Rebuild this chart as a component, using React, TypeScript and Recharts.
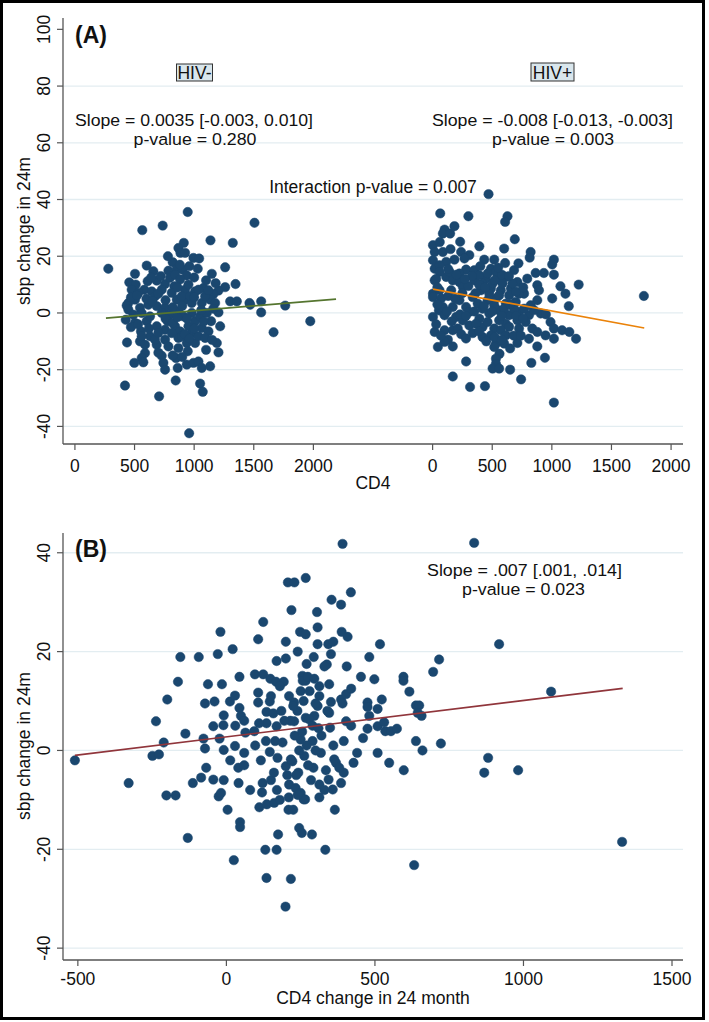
import React from 'react';
import { ScatterChart, Scatter, XAxis, YAxis, CartesianGrid } from 'recharts';

const FONT = '"Liberation Sans", Arial, Helvetica, sans-serif';
const MARKER = '#1a476f';
const GREEN = '#55752f';
const ORANGE = '#ea8209';
const MAROON = '#90353b';
const GRID = '#e3edf1';
const AXIS = '#555555';
const TEXT = '#111111';

// ---------- Panel A data: CD4 (x) vs sbp change in 24m (y) ----------
const hivNegPoints: [number, number][] = [
  [946, 35.6], [565, 29.2], [736, 30.8], [1506, 31.8], [1137, 25.6], [1324, 24.7], [913, 24.7], [868, 22.9],
  [885, 21.2], [924, 21.2], [280, 15.6], [504, 13.8], [602, 16.7], [658, 14.7], [820, 17.9], [994, 19.4],
  [1042, 19.2], [1030, 15.6], [1148, 13.8], [1260, 16.1], [784, 14.9], [854, 15.5], [902, 15.3], [938, 13.2],
  [1347, 10.2], [1260, 9.1], [1204, 7.9], [1162, 6.7], [1078, 8.8], [1008, 7.6], [924, 8.2], [834, 9.4],
  [756, 10.2], [686, 11.4], [610, 11.2], [456, 10.8], [510, 10.0], [582, 8.2], [644, 7.6], [448, 3.5],
  [434, 2.6], [504, 4.7], [546, 1.8], [616, 2.9], [686, 2.4], [756, 1.8], [854, 4.7], [924, 4.7],
  [980, 3.5], [1064, 3.5], [1134, 4.7], [1176, 3.5], [1302, 4.1], [1358, 4.1], [1464, 3.5], [1470, 2.9],
  [1562, 4.1], [1764, 2.6], [1562, 0.2], [1974, -2.9], [1666, -6.8], [1204, 0.2], [426, -2.4], [504, -3.5],
  [602, -2.9], [686, -4.7], [554, -6.5], [778, -2.9], [840, -4.7], [882, -6.5], [952, -4.7], [1008, -2.9],
  [1064, -5.3], [1120, -6.5], [1218, -4.7], [1142, -2.9], [437, -10.4], [546, -10.0], [588, -11.2], [686, -11.2],
  [756, -9.4], [868, -8.8], [938, -10.6], [1008, -10.6], [868, -12.4], [946, -13.5], [1190, -10.6], [1204, -13.9],
  [588, -14.1], [560, -15.9], [498, -17.6], [574, -17.4], [728, -15.1], [742, -17.6], [756, -20.0], [848, -15.9],
  [862, -19.4], [938, -18.2], [994, -17.6], [1036, -17.1], [1064, -19.4], [1134, -18.8], [420, -25.6], [845, -23.8],
  [1050, -24.9], [1072, -27.8], [706, -29.4], [958, -42.4],
  [476, 8.2], [532, 7.1], [672, 5.9], [728, 8.2], [798, 12.4], [840, 13.5], [882, 11.8], [952, 10.0],
  [812, 7.1], [896, 5.9], [966, 5.9], [1036, 8.2], [1092, 5.9], [448, 1.2], [490, -0.6], [560, 0],
  [630, -1.2], [728, 0], [798, -0.6], [868, 0.6], [910, -1.2], [980, 0], [1050, -1.2], [1106, 0],
  [756, -5.9], [812, -7.1], [896, -8.2], [980, -7.1], [1036, -8.2], [1092, -8.8], [630, -8.2], [560, -8.2],
  [784, -11.8], [672, -9.4],
  [470, 5.5], [520, 6.2], [600, 5.0], [650, 4.2], [700, 6.8], [760, 4.5], [820, 2.0], [860, 9.0],
  [900, 2.5], [940, -2.0], [1000, 5.5], [1060, 1.0], [1120, 8.0], [1160, 1.5], [470, -5.0], [530, -4.0],
  [620, -5.5], [700, -7.0], [760, -2.0], [820, -3.5], [860, -1.5], [920, -7.5], [960, -9.0], [1000, -5.5],
  [1080, -3.0], [1150, -9.5], [640, 12.5], [720, 13.0], [880, 17.0], [960, 16.5], [1000, 12.5], [1100, 11.5],
  [1180, 10.5], [780, 20.0], [700, -14.0], [820, -15.0], [900, -15.5], [1100, -13.0],
];

const hivPosPoints: [number, number][] = [
  [469, 41.9], [64, 35.1], [300, 34.1], [628, 34.1], [608, 32.1], [100, 29.4], [183, 30.6], [86, 28.0],
  [147, 28.0], [689, 26.0], [231, 25.1], [3, 23.9], [392, 23.5], [600, 22.7], [17, 21.5], [86, 21.5],
  [239, 21.5], [308, 20.4], [267, 19.2], [822, 21.5], [814, 19.5], [1017, 18.8], [1003, 17.1], [3, 18.6],
  [114, 18.0], [183, 18.8], [433, 18.8], [517, 18.8], [608, 17.6], [17, 15.6], [58, 16.8], [281, 15.3],
  [350, 15.1], [489, 15.6], [683, 15.1], [864, 14.1], [933, 14.1], [1017, 13.5], [17, 11.5], [114, 12.7],
  [169, 11.5], [225, 10.9], [350, 11.5], [447, 12.1], [558, 12.7], [711, 10.9], [794, 12.1], [878, 9.8],
  [1225, 10.0], [1072, 9.4], [3, 6.8], [58, 8.0], [156, 8.0], [253, 9.2], [406, 8.0], [489, 8.6],
  [572, 8.0], [656, 8.6], [767, 6.8], [892, 8.0], [1114, 6.8], [1772, 6.0], [3, 5.6], [72, 5.1],
  [169, 2.1], [281, 2.1], [378, 3.3], [461, 4.5], [531, 5.1], [614, 3.3], [697, 3.9], [878, 4.5],
  [1003, 5.1], [1142, 2.4], [53, 0.9], [3, -1.4], [100, -0.8], [197, -1.4], [308, 0.4], [392, -2.0],
  [475, -0.2], [558, 0.9], [642, -0.8], [725, 0.4], [808, -0.8], [906, -0.2], [989, -3.2], [1017, -5.5],
  [308, -4.4], [419, -4.9], [517, -5.5], [614, -3.8], [711, -2.6], [836, -5.5], [17, -6.7], [100, -6.1],
  [169, -6.1], [211, -5.5], [336, -7.1], [489, -7.9], [572, -6.1], [808, -9.1], [878, -6.7], [947, -7.9],
  [1017, -9.1], [1086, -6.1], [1147, -6.7], [1203, -9.1], [44, -12.0], [128, -9.4], [169, -11.8], [100, -10.2],
  [531, -10.8], [600, -10.8], [711, -10.6], [878, -11.8], [561, -14.4], [531, -16.1], [531, -17.9], [503, -19.6],
  [558, -19.6], [281, -17.1], [942, -15.8], [828, -17.6], [650, -20.0], [169, -22.4], [742, -23.4], [314, -26.1],
  [439, -25.8], [1017, -31.6],
  [58, 14.5], [142, 14.5], [225, 13.9], [392, 13.3], [461, 13.9], [531, 14.5], [614, 12.7], [419, 10.4],
  [503, 10.4], [586, 10.4], [669, 10.4], [475, 6.8], [558, 6.2], [642, 6.2], [725, 6.8], [86, 2.1],
  [225, 4.5], [336, 5.6], [419, 1.5], [517, 2.7], [600, 1.5], [683, 1.5], [767, 1.5], [822, 2.7],
  [253, -2.6], [364, -3.8], [461, -3.2], [558, -2.6], [642, -4.9], [725, -5.5], [781, -3.2], [419, -8.5],
  [614, -7.9], [517, -12.0],
  [30, 12], [40, 9], [130, 6], [190, 5], [250, 7], [300, 9.5], [360, 7], [390, 10],
  [440, 9], [520, 11.5], [580, 13.5], [640, 13], [700, 7.5], [760, 9], [330, 13], [270, 12],
  [200, 13.5], [130, 15.5], [40, 3], [120, 0.5], [160, -3], [230, -0.5], [280, -1], [350, 0.5],
  [430, 2.5], [500, 0.5], [580, -1], [650, 3], [700, -1], [760, -2], [850, 1], [950, -0.5],
  [30, -4], [70, -8], [240, -7.5], [280, -9], [390, -6.5], [450, -10], [520, -8.5], [680, -8],
  [740, -8], [580, -9.5], [650, -12.5], [400, 16.5], [550, 16], [720, 17.5], [150, 22.5], [60, 25],
];

// fitted lines (endpoints)
const fitNeg: [number, number][] = [[260, -1.8], [2190, 4.9]];
const fitPos: [number, number][] = [[3, 8.4], [1775, -5.3]];

// HIV+ group is drawn shifted right on the shared CD4 axis
const HIV_POS_OFFSET = 3000;
const xTicksGroup = [0, 500, 1000, 1500, 2000];
const yTicksA = [-40, -20, 0, 20, 40, 60, 80, 100];
const gridA = [-40, -20, 0, 20, 40, 60, 80];

// ---------- Panel B data: CD4 change (x) vs sbp change (y) ----------
const changePoints: [number, number][] = [
  [-510, -2.0], [-329, -6.6], [-249, -1.1], [-227, -0.8], [-211, 1.6], [-237, 5.9], [-199, 10.3], [-163, 13.9],
  [-155, 18.9], [-93, 18.9], [-202, -9.1], [-171, -9.1], [-138, 3.4], [-130, -17.7], [-113, -6.6], [-85, -5.5],
  [-68, -3.5], [-77, 2.4], [-72, 0.4], [-72, 9.5], [-62, 13.4], [-29, 19.5], [-20, 24.0], [-40, 9.9],
  [-15, 13.4], [-44, 4.9], [-23, 2.4], [-9, 0.1], [-44, -5.9], [-9, -6.0], [-26, -9.3], [-18, -8.6],
  [4, -12.0], [21, 20.5], [44, 14.9], [12, 9.9], [29, 11.1], [44, 8.6], [49, 7.0], [-9, 7.1],
  [-10, 5.1], [29, 0.9], [13, -2.0], [40, -3.5], [60, -3.0], [60, -0.5], [64, 3.6], [94, 3.9],
  [41, -6.6], [46, -14.5], [46, -15.5], [25, -22.2], [107, 22.5], [124, 26.0], [96, 15.4], [107, 11.7],
  [107, 9.7], [146, 9.9], [135, 7.8], [158, 7.5], [135, 5.5], [169, 4.9], [133, 1.9], [164, 1.9],
  [189, 1.6], [97, 1.0], [146, -0.3], [172, -1.5], [200, -3.2], [222, -2.2], [116, -2.0], [122, -6.6],
  [150, -6.0], [211, -6.9], [233, -7.6], [111, -11.5], [136, -10.9], [161, -10.6], [209, -12.0], [245, -15.7],
  [254, -16.7], [174, -17.0], [131, -20.1], [169, -20.1], [135, -25.8], [217, -26.0], [199, -31.6], [124, 15.4],
  [148, 14.5], [169, 18.1], [200, 18.6], [167, 13.9], [193, 13.9], [207, 34.0], [229, 34.0], [267, 34.9],
  [219, 28.4], [248, 24.0], [267, 23.5], [256, 15.1], [267, 14.1], [211, 11.0], [228, 9.7], [239, 8.0],
  [228, 5.9], [250, 2.2], [262, -1.1], [217, -1.8], [242, -4.5], [250, -8.6], [265, -9.9], [267, 6.6],
  [391, 41.8], [834, 42.0], [419, 32.0], [354, 30.5], [386, 29.5], [305, 28.0], [307, 24.9], [388, 24.0],
  [408, 23.0], [307, 21.5], [343, 21.5], [517, 21.5], [918, 21.5], [294, 18.9], [352, 19.5], [338, 17.4],
  [405, 17.0], [481, 18.9], [453, 14.9], [498, 14.4], [596, 14.9], [596, 14.1], [616, 11.9], [696, 15.9],
  [716, 18.4], [346, 13.4], [257, 14.1], [274, 14.9], [296, 14.5], [313, 13.0], [313, 11.0], [307, 9.0],
  [296, 7.0], [279, 6.3], [352, 9.8], [386, 10.3], [403, 11.4], [391, 9.5], [346, 7.6], [403, 5.9],
  [349, 4.6], [475, 9.7], [475, 8.8], [509, 8.4], [523, 10.3], [481, 7.0], [509, 4.9], [531, 5.7],
  [475, 4.4], [535, 3.9], [554, 3.9], [574, 4.4], [638, 9.1], [649, 9.1], [644, 7.6], [657, 7.0],
  [395, 1.9], [638, 1.9], [660, 0.0], [722, 1.4], [509, -0.5], [548, -2.5], [597, -4.0], [428, -2.5],
  [395, -4.5], [386, -6.6], [358, -7.9], [344, -5.9], [313, -6.9], [363, -1.8], [369, -2.5], [318, -0.5],
  [293, -3.5], [290, 1.9], [313, -9.5], [365, -12.0], [260, -9.9], [288, -17.0], [333, -20.1], [632, -23.2],
  [881, -1.5], [868, -4.5], [982, -4.0], [1093, 11.9], [1332, -18.5],
  [215, 6], [230, 3], [245, 0], [260, 10], [275, -3], [290, 5], [205, -5], [185, 8],
  [170, -8], [250, 12], [280, 12], [300, 0], [320, 3], [335, -4], [240, -9], [225, -12],
  [110, 5.5], [150, 11], [180, 13], [195, 6], [210, -9.5], [225, 9], [235, -5], [255, 3.8],
  [270, 1], [285, -6], [300, 9.5], [310, 4.5], [330, -8], [340, 8], [360, 1], [380, -3.5],
  [420, 5], [440, -0.5], [460, 2.5], [120, -8.5], [160, -4.5], [180, -10], [80, -8], [60, 6],
  [30, 5], [200, 22], [240, 20], [270, 17.5], [330, 17], [360, 22], [420, 12.5],
];
const fitChange: [number, number][] = [[-510, -1.0], [1334, 12.55]];
const xTicksB = [-500, 0, 500, 1000, 1500];
const yTicksB = [-40, -20, 0, 20, 40];

const toXY = (pts: [number, number][], dx = 0) => pts.map(([x, y]) => ({ x: x + dx, y }));

const Dot = (p: any) => <circle cx={p.cx} cy={p.cy} r={4.7} fill={MARKER} stroke={MARKER} strokeWidth={0.5} />;
const NoShape = () => <g />;

const makeXTick = (baseline: number, offsetLabel: boolean) => (p: any) => {
  const v = p.payload.value;
  const label = offsetLabel && v >= HIV_POS_OFFSET ? v - HIV_POS_OFFSET : v;
  return (
    <text x={p.x} y={baseline} textAnchor="middle" fontSize={17.5} fontFamily={FONT} fill={TEXT}>
      {label}
    </text>
  );
};

const YTick = (p: any) => (
  <text
    x={50}
    y={p.y}
    transform={`rotate(-90 50 ${p.y})`}
    textAnchor="middle"
    fontSize={17.5}
    fontFamily={FONT}
    fill={TEXT}
  >
    {p.payload.value}
  </text>
);

const xTicksA = [...xTicksGroup, ...xTicksGroup.map((t) => t + HIV_POS_OFFSET)];

export default function App() {
  const negData = toXY(hivNegPoints);
  const posData = toXY(hivPosPoints, HIV_POS_OFFSET);
  const fitNegData = toXY(fitNeg);
  const fitPosData = toXY(fitPos, HIV_POS_OFFSET);
  const chgData = toXY(changePoints);
  const fitChgData = toXY(fitChange);

  const axisLine = { stroke: AXIS, strokeWidth: 1.3 };
  const tickLine = { stroke: AXIS, strokeWidth: 1.2 };

  const txt = { fontFamily: FONT, fontSize: 17.5, fill: TEXT } as const;
  const small = { fontFamily: FONT, fontSize: 16.3, fill: TEXT, lengthAdjust: 'spacingAndGlyphs' } as const;

  return (
    <div style={{ position: 'absolute', left: 0, top: 0, width: 709, height: 1022, background: '#fff' }}>
      <div style={{ position: 'absolute', left: 0, top: 0 }}>
        <ScatterChart width={709} height={500} margin={{ top: 18, right: 26, bottom: 0, left: 0 }}>
          <CartesianGrid vertical={false} horizontalValues={gridA} stroke={GRID} strokeWidth={1.3} />
          <XAxis
            type="number"
            dataKey="x"
            domain={[-100, 5100]}
            ticks={xTicksA}
            interval={0}
            height={56}
            axisLine={axisLine}
            tickLine={tickLine}
            tickSize={6}
            tick={makeXTick(471.5, true)}
          />
          <YAxis
            type="number"
            dataKey="y"
            domain={[-46.2, 104]}
            ticks={yTicksA}
            interval={0}
            width={63}
            axisLine={axisLine}
            tickLine={tickLine}
            tickSize={6}
            tick={YTick}
          />
          <Scatter data={negData} fill={MARKER} shape={Dot} isAnimationActive={false} />
          <Scatter data={posData} fill={MARKER} shape={Dot} isAnimationActive={false} />
          <Scatter data={fitNegData} line={{ stroke: GREEN, strokeWidth: 1.7 }} shape={NoShape} isAnimationActive={false} />
          <Scatter data={fitPosData} line={{ stroke: ORANGE, strokeWidth: 1.7 }} shape={NoShape} isAnimationActive={false} />
        </ScatterChart>
      </div>

      <div style={{ position: 'absolute', left: 0, top: 500 }}>
        <ScatterChart width={709} height={522} margin={{ top: 33, right: 26, bottom: 0, left: 0 }}>
          <CartesianGrid vertical={false} horizontalValues={yTicksB} stroke={GRID} strokeWidth={1.3} />
          <XAxis
            type="number"
            dataKey="x"
            domain={[-550, 1537]}
            ticks={xTicksB}
            interval={0}
            height={62}
            axisLine={axisLine}
            tickLine={tickLine}
            tickSize={6}
            tick={makeXTick(485, false)}
          />
          <YAxis
            type="number"
            dataKey="y"
            domain={[-42.4, 44]}
            ticks={yTicksB}
            interval={0}
            width={63}
            axisLine={axisLine}
            tickLine={tickLine}
            tickSize={6}
            tick={YTick}
          />
          <Scatter data={chgData} fill={MARKER} shape={Dot} isAnimationActive={false} />
          <Scatter data={fitChgData} line={{ stroke: MAROON, strokeWidth: 1.7 }} shape={NoShape} isAnimationActive={false} />
        </ScatterChart>
      </div>

      <svg
        width={709}
        height={1022}
        style={{ position: 'absolute', left: 0, top: 0, pointerEvents: 'none' }}
      >
        {/* Panel A */}
        <text x={75} y={42.5} fontFamily={FONT} fontSize={23} fontWeight="bold" fill={TEXT}>(A)</text>
        <rect x={176.5} y={64} width={36} height={17} fill="#d9e6ec" stroke="#333" strokeWidth={1} />
        <text x={194.5} y={79} textAnchor="middle" {...txt}>HIV-</text>
        <rect x={531} y={63} width={43} height={18} fill="#d9e6ec" stroke="#333" strokeWidth={1} />
        <text x={552.5} y={79} textAnchor="middle" {...txt}>HIV+</text>
        <text x={194} y={126} textAnchor="middle" textLength={238} {...small}>Slope = 0.0035 [-0.003, 0.010]</text>
        <text x={195} y={145} textAnchor="middle" textLength={123} {...small}>p-value = 0.280</text>
        <text x={552.5} y={126} textAnchor="middle" textLength={241} {...small}>Slope = -0.008 [-0.013, -0.003]</text>
        <text x={553} y={145} textAnchor="middle" textLength={122} {...small}>p-value = 0.003</text>
        <text x={373} y={192.5} textAnchor="middle" {...txt}>Interaction p-value = 0.007</text>
        <text x={373} y={489} textAnchor="middle" {...txt}>CD4</text>
        <text x={29.5} y={231} transform="rotate(-90 29.5 231)" textAnchor="middle" {...txt}>sbp change in 24m</text>

        {/* Panel B */}
        <text x={75} y={557} fontFamily={FONT} fontSize={23} fontWeight="bold" fill={TEXT}>(B)</text>
        <text x={524.5} y={576} textAnchor="middle" textLength={195} {...small}>Slope = .007 [.001, .014]</text>
        <text x={523.5} y={595} textAnchor="middle" textLength={123} {...small}>p-value = 0.023</text>
        <text x={373} y={1004} textAnchor="middle" {...txt}>CD4 change in 24 month</text>
        <text x={29.5} y={746} transform="rotate(-90 29.5 746)" textAnchor="middle" {...txt}>sbp change in 24m</text>
      </svg>

      <div
        style={{
          position: 'absolute',
          left: 0,
          top: 0,
          width: 705,
          height: 1020,
          border: '3px solid #000',
          boxSizing: 'border-box',
          pointerEvents: 'none',
        }}
      />
    </div>
  );
}
